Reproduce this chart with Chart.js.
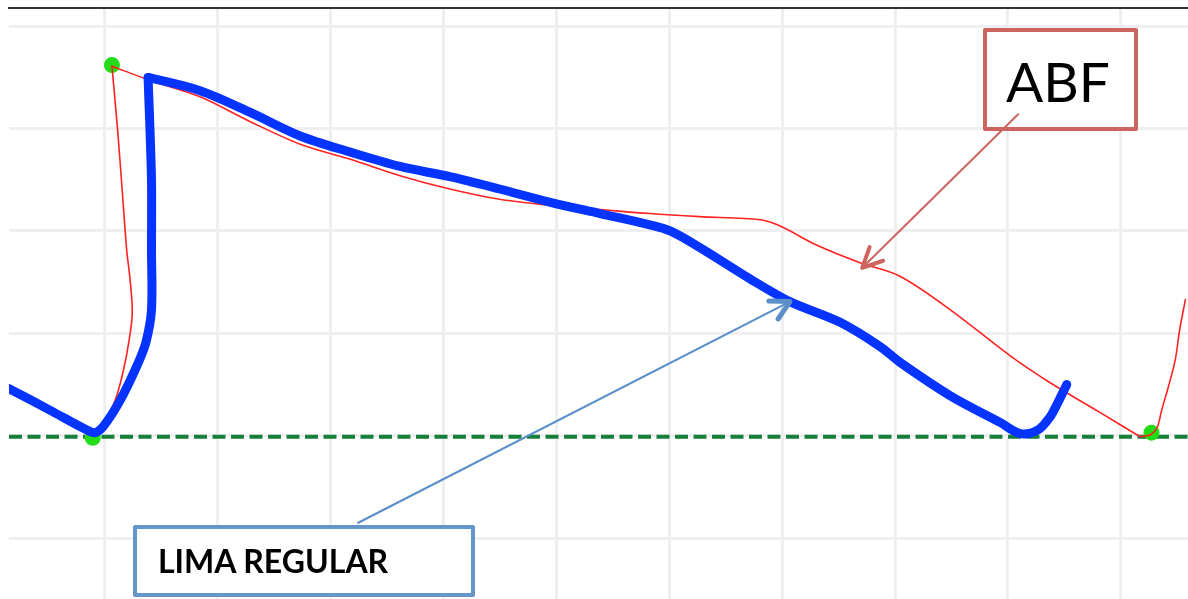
<!DOCTYPE html>
<html><head><meta charset="utf-8">
<script src="https://cdn.jsdelivr.net/npm/chart.js@4.4.1/dist/chart.umd.min.js"></script>
<style>
html,body{margin:0;padding:0;background:#fff;}
#wrap{position:relative;width:1188px;height:599px;overflow:hidden;background:#fff;}
canvas{display:block;}
.lbl{position:absolute;white-space:nowrap;color:#000;line-height:1;}
#abf{font-family:Lato,'Open Sans',sans-serif;font-size:55px;left:1006px;top:54px;}
#lima{font-family:Lato,'Open Sans',sans-serif;font-weight:700;font-size:32px;left:158px;top:545px;}
</style></head>
<body><div id="wrap"><canvas id="c" width="1188" height="599"></canvas>
<div class="lbl" id="abf">ABF</div><div class="lbl" id="lima">LIMA REGULAR</div></div>
<script>
// ---- axis ranges (grid lines fall on whole units) ----
const X_RANGE = [-0.841, 9.593];
const Y_RANGE = [-1.595, 4.178];
const BASELINE = -0.01;

// ---- LIMA REGULAR (blue) ----
const limaRiseX = [-0.84, -0.48, -0.16, -0.08, 0.00, 0.14, 0.29, 0.37, 0.42, 0.42, 0.42, 0.39];
const limaRiseY = [0.46, 0.25, 0.06, 0.03, 0.10, 0.34, 0.68, 0.91, 1.23, 1.82, 2.50, 3.50];
const limaFallX = [0.39, 0.85, 1.29, 1.73, 2.18, 2.62, 3.06, 3.50, 3.95, 4.39, 4.83, 5.01, 5.27, 5.72, 6.07, 6.51, 6.87, 7.04, 7.49, 7.93, 8.11, 8.27, 8.37, 8.44, 8.52];
const limaFallY = [3.50, 3.37, 3.16, 2.93, 2.77, 2.63, 2.53, 2.41, 2.28, 2.17, 2.06, 2.00, 1.84, 1.53, 1.31, 1.11, 0.87, 0.72, 0.39, 0.13, 0.02, 0.06, 0.18, 0.32, 0.50];

// ---- ABF (red) ----
const abfRiseX = [-0.08, 0.01, 0.10, 0.17, 0.22, 0.25, 0.23, 0.20, 0.16, 0.12, 0.07];
const abfRiseY = [0.01, 0.15, 0.35, 0.63, 0.92, 1.20, 1.53, 1.82, 2.41, 2.99, 3.61];
const abfFallX = [0.07, 0.41, 0.85, 1.29, 1.73, 2.18, 2.62, 3.06, 3.50, 3.95, 4.39, 4.83, 5.27, 5.81, 5.98, 6.31, 6.69, 7.04, 7.49, 8.02, 8.37, 8.81, 9.17];
const abfFallY = [3.61, 3.47, 3.31, 3.07, 2.85, 2.70, 2.54, 2.41, 2.31, 2.25, 2.21, 2.17, 2.14, 2.11, 2.05, 1.86, 1.69, 1.56, 1.23, 0.78, 0.52, 0.23, -0.01];
const abfEndX = [9.17, 9.26, 9.32, 9.36, 9.42, 9.48, 9.52, 9.57];
const abfEndY = [-0.01, 0.01, 0.08, 0.25, 0.48, 0.74, 1.04, 1.33];

// ---- marker points (green) ----
const markX = [0.07, -0.10, 9.27];
const markY = [3.62, -0.02, 0.03];

// ---- annotation anchors (data units) ----
const abfArrow = {from: [8.09, 3.14], to: [6.71, 1.64]};
const limaArrow = {from: [2.25, -0.85], to: [6.07, 1.31]};

const pts = (xs, ys) => xs.map((x, i) => ({x, y: ys[i]}));

const BLUE = '#0533ff', RED = '#ff2222';
const blueStyle = {borderColor: BLUE, borderWidth: 9, pointRadius: 0, tension: 0.32, borderCapStyle: 'round', borderJoinStyle: 'round', order: 1};
const redStyle = {borderColor: RED, borderWidth: 1.6, pointRadius: 0, tension: 0.32, borderCapStyle: 'round', borderJoinStyle: 'round', order: 2};

const annot = {
  id: 'annot',
  afterDatasetsDraw(chart) {
    const ctx = chart.ctx, xs = chart.scales.x, ys = chart.scales.y;
    const P = p => [xs.getPixelForValue(p[0]), ys.getPixelForValue(p[1])];
    ctx.save();
    function box(x, y, w, h, color) {
      ctx.lineWidth = 4; ctx.strokeStyle = color; ctx.fillStyle = '#fff'; ctx.lineJoin = 'round';
      ctx.beginPath(); ctx.rect(x, y, w, h); ctx.fill(); ctx.stroke();
    }
    box(985, 30, 151, 99, '#cd645f');
    box(135, 527, 338, 68, '#6596c9');
    function arrow(a, color, shaftW, headW, len, ang) {
      const [x1, y1] = P(a.from), [x2, y2] = P(a.to);
      ctx.strokeStyle = color; ctx.lineCap = 'round'; ctx.lineJoin = 'round';
      ctx.lineWidth = shaftW;
      ctx.beginPath(); ctx.moveTo(x1, y1); ctx.lineTo(x2, y2); ctx.stroke();
      const th = Math.atan2(y1 - y2, x1 - x2);
      ctx.lineWidth = headW;
      ctx.beginPath();
      ctx.moveTo(x2 + len * Math.cos(th + ang), y2 + len * Math.sin(th + ang));
      ctx.lineTo(x2, y2);
      ctx.lineTo(x2 + len * Math.cos(th - ang), y2 + len * Math.sin(th - ang));
      ctx.stroke();
    }
    arrow(abfArrow, '#cd645f', 2, 4, 22, 0.45);
    arrow(limaArrow, '#5b8fc9', 2.2, 5, 21, 0.5);
    ctx.restore();
  }
};

new Chart(document.getElementById('c'), {
  type: 'line',
  data: {
    datasets: [
      Object.assign({data: pts(limaRiseX, limaRiseY)}, blueStyle),
      Object.assign({data: pts(limaFallX, limaFallY)}, blueStyle),
      Object.assign({data: pts(abfRiseX, abfRiseY)}, redStyle),
      Object.assign({data: pts(abfFallX, abfFallY)}, redStyle),
      Object.assign({data: pts(abfEndX, abfEndY)}, redStyle),
      {data: pts(markX, markY), showLine: false, pointRadius: 8, pointBackgroundColor: '#22dd16', pointBorderWidth: 0, order: 3},
      {data: [{x: X_RANGE[0], y: BASELINE}, {x: X_RANGE[1], y: BASELINE}], borderColor: '#16803b', borderWidth: 4, borderDash: [13, 5.5], pointRadius: 0, order: 4}
    ]
  },
  options: {
    responsive: false, animation: false, devicePixelRatio: 1,
    layout: {padding: {top: 8, left: 9, right: 0, bottom: 0}, autoPadding: false},
    plugins: {legend: {display: false}, tooltip: {enabled: false}, title: {display: false}},
    scales: {
      x: {type: 'linear', position: 'top', min: X_RANGE[0], max: X_RANGE[1],
          ticks: {display: false, stepSize: 1, includeBounds: false},
          grid: {color: '#efefef', lineWidth: 3, drawTicks: false},
          border: {display: true, color: '#333', width: 2}},
      y: {type: 'linear', min: Y_RANGE[0], max: Y_RANGE[1],
          ticks: {display: false, stepSize: 1, includeBounds: false},
          grid: {color: '#efefef', lineWidth: 3, drawTicks: false},
          border: {display: false}}
    }
  },
  plugins: [annot]
});
</script>
</body></html>
